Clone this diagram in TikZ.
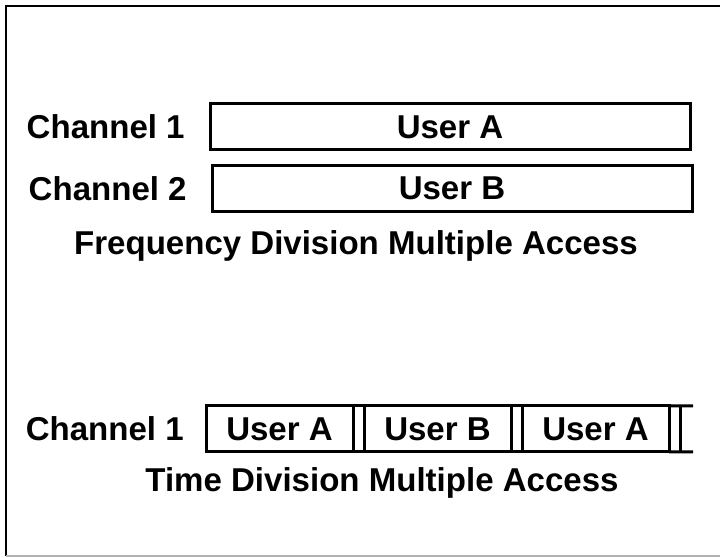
\documentclass[tikz,border=0pt]{standalone}
\usepackage{fontspec}
\setmainfont{Liberation Sans}
\usetikzlibrary{positioning}

\begin{document}
\begin{tikzpicture}[
  font=\fontsize{23.5}{28}\selectfont\bfseries,
  band/.style={draw, line width=0.075cm, minimum width=12cm,
               minimum height=1.15cm, inner sep=0pt},
  slot/.style={draw, line width=0.075cm, minimum width=3.675cm,
               minimum height=1.15cm, inner sep=0pt, outer sep=0pt},
  chlabel/.style={inner sep=0pt},
  caption/.style={inner sep=0pt},
  rail/.style={line width=0.075cm},
]
\useasboundingbox (0,0) rectangle (18,13.95);

% outer frame (cut off on the right)
\draw[line width=0.05cm] (18.2,13.8) -- (0.15,13.8) -- (0.15,0.05);
\draw[gray!60, line width=0.05cm] (0.15,0.05) -- (18.2,0.05);

% -------------------------------------------------------------------------
% FDMA: one channel per user
% -------------------------------------------------------------------------
\node[band] (usera) at (11.25,10.775) {User A};
\node[band] (userb) at (11.30,9.2375) {User B};
\node[chlabel, left=0.59cm of usera] (fch1) {Channel 1};
\node[chlabel, left=0.59cm of userb] (fch2) {Channel 2};
\node[caption] (fdma) at (8.90,7.80) {Frequency Division Multiple Access};

% -------------------------------------------------------------------------
% TDMA: users take turns on one channel
% -------------------------------------------------------------------------
\foreach \i/\who in {1/User A, 2/User B, 3/User A}
  \node[slot] (slot\i) at ({6.9875+3.95*(\i-1)},3.225) {\who};
\node[chlabel, left=0.55cm of slot1] (tch1) {Channel 1};

\coordinate (nexttop) at (17.00,3.80);
\coordinate (nextbot) at (17.00,2.65);
\coordinate (tailtop) at (17.325,3.80);
\coordinate (tailbot) at (17.325,2.65);

\draw[rail] (slot1.north east) -- (slot2.north west);
\draw[rail] (slot1.south east) -- (slot2.south west);
\draw[rail] (slot2.north east) -- (slot3.north west);
\draw[rail] (slot2.south east) -- (slot3.south west);
\draw[rail] (slot3.north east) -- (tailtop);
\draw[rail] (slot3.south east) -- (tailbot);
\draw[rail] (nexttop) -- (nextbot);

\node[caption] (tdma) at (9.55,1.875) {Time Division Multiple Access};

\end{tikzpicture}
\end{document}
